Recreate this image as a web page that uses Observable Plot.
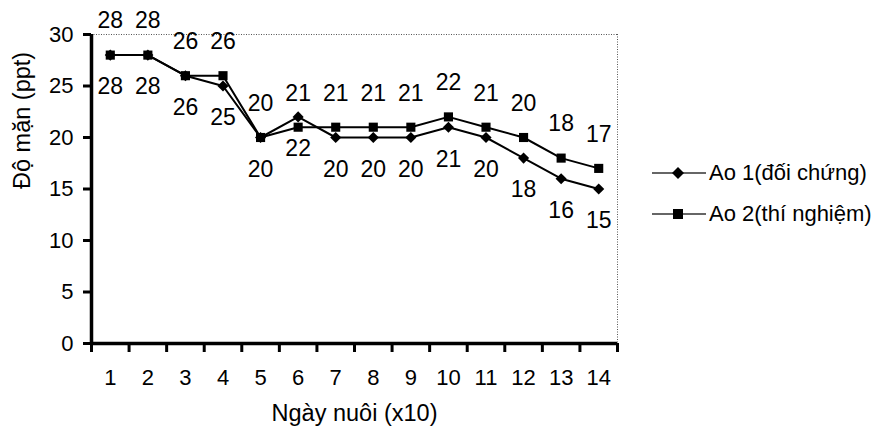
<!DOCTYPE html>
<html>
<head>
<meta charset="utf-8">
<script src="https://cdn.jsdelivr.net/npm/d3@7"></script>
<script src="https://cdn.jsdelivr.net/npm/@observablehq/plot@0.6"></script>
<style>
  html, body { margin: 0; padding: 0; background: #fff; }
  #wrap { position: relative; width: 878px; height: 437px; font-family: "Liberation Sans", Arial, sans-serif; }
  .leg { position: absolute; left: 652px; display: flex; align-items: center; font-size: 22px; color: #000; white-space: nowrap; }
  .leg svg { margin-right: 3px; }
</style>
</head>
<body>
<div id="wrap"></div>
<script>
const days = [1, 2, 3, 4, 5, 6, 7, 8, 9, 10, 11, 12, 13, 14];
const ao1 = [28, 28, 26, 25, 20, 22, 20, 20, 20, 21, 20, 18, 16, 15];
const ao2 = [28, 28, 26, 26, 20, 21, 21, 21, 21, 22, 21, 20, 18, 17];
const seriesNames = ["Ao 1(đối chứng)", "Ao 2(thí nghiệm)"];
const yTicks = [0, 5, 10, 15, 20, 25, 30];
const xTitle = "Ngày nuôi (x10)";
const yTitle = "Độ mặn (ppt)";

const d1 = days.map((d, i) => ({day: d, value: ao1[i], series: seriesNames[0]}));
const d2 = days.map((d, i) => ({day: d, value: ao2[i], series: seriesNames[1]}));
const lo = days[0] - 0.5, hi = days[days.length - 1] + 0.5;
const bounds = d3.range(lo, hi + 0.01, 1);

const chart = Plot.plot({
  width: 878,
  height: 437,
  marginLeft: 91,
  marginRight: 261,
  marginTop: 34,
  marginBottom: 94,
  style: {fontFamily: "'Liberation Sans', Arial, sans-serif", fontSize: "22px", color: "#000", background: "#fff"},
  x: {type: "linear", domain: [lo, hi]},
  y: {domain: [0, 30]},
  marks: [
    Plot.ruleY([30], {stroke: "#555", strokeWidth: 1, strokeDasharray: "1,1.5"}),
    Plot.ruleX([hi], {stroke: "#555", strokeWidth: 1, strokeDasharray: "1,1.5"}),
    Plot.line(d1, {x: "day", y: "value", stroke: "#000", strokeWidth: 2}),
    Plot.line(d2, {x: "day", y: "value", stroke: "#000", strokeWidth: 2}),
    Plot.dot(d1, {x: "day", y: "value", symbol: "diamond2", r: 5, fill: "#000", stroke: "none"}),
    Plot.dot(d2, {x: "day", y: "value", symbol: "square2", r: 5.8, fill: "#000", stroke: "none"}),
    Plot.text(d2, {x: "day", y: "value", text: d => String(d.value), dy: -34, fontSize: 23, fill: "#000"}),
    Plot.text(d1, {x: "day", y: "value", text: d => String(d.value), dy: 32, fontSize: 23, fill: "#000"}),
    Plot.axisY({ticks: yTicks, tickSize: 8, tickPadding: 10, strokeWidth: 3, label: null, fontSize: 22}),
    Plot.axisX({ticks: days, tickSize: 0, tickPadding: 26, label: null, fontSize: 22, tickFormat: d => String(d)}),
    Plot.axisX({ticks: bounds, tickSize: 9, strokeWidth: 3, tickFormat: () => "", label: null}),
    Plot.ruleX([lo], {stroke: "#000", strokeWidth: 3.5}),
    Plot.ruleY([0], {stroke: "#000", strokeWidth: 3.5}),
    Plot.text([xTitle], {frameAnchor: "bottom", dy: 77, fontSize: 23.5, fill: "#000"}),
    Plot.text([yTitle], {frameAnchor: "left", dx: -69, rotate: -90, fontSize: 23.5, fill: "#000"})
  ]
});

const wrap = document.getElementById("wrap");
wrap.appendChild(chart);

const legTop = [174, 215];
const legSym = [
  '<polygon points="26,1 32,7 26,13 20,7" fill="#000"/>',
  '<rect x="21" y="2" width="10" height="10" fill="#000"/>'
];
seriesNames.forEach((name, i) => {
  const div = document.createElement("div");
  div.className = "leg";
  div.style.top = (legTop[i] - 14) + "px";
  div.innerHTML = '<svg width="54" height="14"><line x1="0" y1="7" x2="54" y2="7" stroke="#333" stroke-width="1.5"/>' + legSym[i] + '</svg><span>' + name + '</span>';
  wrap.appendChild(div);
});
</script>
</body>
</html>
